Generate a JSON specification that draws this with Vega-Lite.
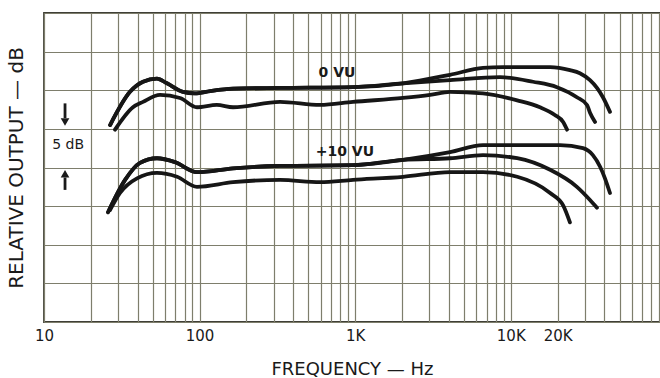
{
  "$schema": "https://vega.github.io/schema/vega-lite/v6.json",
  "width": 616,
  "height": 309,
  "autosize": {"type": "none"},
  "padding": {"left": 44, "top": 13, "right": 0, "bottom": 56},
  "background": "#ffffff",
  "config": {
    "view": {"stroke": "#3f3f36", "strokeWidth": 1.8},
    "font": "DejaVu Sans"
  },
  "datasets": {
    "curves": [
      {"f": 26.6, "db": 25.5, "curve": "0VU-a"},
      {"f": 35.7, "db": 29.8, "curve": "0VU-a"},
      {"f": 43.3, "db": 31.1, "curve": "0VU-a"},
      {"f": 53.2, "db": 31.5, "curve": "0VU-a"},
      {"f": 61.7, "db": 30.9, "curve": "0VU-a"},
      {"f": 78.2, "db": 29.8, "curve": "0VU-a"},
      {"f": 93.4, "db": 29.6, "curve": "0VU-a"},
      {"f": 117, "db": 29.9, "curve": "0VU-a"},
      {"f": 164, "db": 30.2, "curve": "0VU-a"},
      {"f": 329, "db": 30.3, "curve": "0VU-a"},
      {"f": 968, "db": 30.4, "curve": "0VU-a"},
      {"f": 2030, "db": 30.9, "curve": "0VU-a"},
      {"f": 4070, "db": 32.0, "curve": "0VU-a"},
      {"f": 6630, "db": 32.9, "curve": "0VU-a"},
      {"f": 8910, "db": 33.0, "curve": "0VU-a"},
      {"f": 17900, "db": 33.0, "curve": "0VU-a"},
      {"f": 24000, "db": 32.6, "curve": "0VU-a"},
      {"f": 27800, "db": 32.2, "curve": "0VU-a"},
      {"f": 32300, "db": 31.3, "curve": "0VU-a"},
      {"f": 35800, "db": 30.3, "curve": "0VU-a"},
      {"f": 39100, "db": 29.1, "curve": "0VU-a"},
      {"f": 43400, "db": 27.2, "curve": "0VU-a"},

      {"f": 26.6, "db": 25.5, "curve": "0VU-b"},
      {"f": 35.7, "db": 29.8, "curve": "0VU-b"},
      {"f": 43.3, "db": 31.1, "curve": "0VU-b"},
      {"f": 53.2, "db": 31.5, "curve": "0VU-b"},
      {"f": 61.7, "db": 30.9, "curve": "0VU-b"},
      {"f": 78.2, "db": 29.8, "curve": "0VU-b"},
      {"f": 93.4, "db": 29.6, "curve": "0VU-b"},
      {"f": 117, "db": 29.9, "curve": "0VU-b"},
      {"f": 164, "db": 30.2, "curve": "0VU-b"},
      {"f": 329, "db": 30.3, "curve": "0VU-b"},
      {"f": 968, "db": 30.4, "curve": "0VU-b"},
      {"f": 2030, "db": 30.9, "curve": "0VU-b"},
      {"f": 4070, "db": 31.3, "curve": "0VU-b"},
      {"f": 8520, "db": 31.7, "curve": "0VU-b"},
      {"f": 13900, "db": 31.1, "curve": "0VU-b"},
      {"f": 19800, "db": 30.4, "curve": "0VU-b"},
      {"f": 26600, "db": 29.1, "curve": "0VU-b"},
      {"f": 30900, "db": 28.1, "curve": "0VU-b"},
      {"f": 32300, "db": 27.1, "curve": "0VU-b"},
      {"f": 34800, "db": 25.9, "curve": "0VU-b"},

      {"f": 28.6, "db": 24.9, "curve": "0VU-c"},
      {"f": 37.3, "db": 27.8, "curve": "0VU-c"},
      {"f": 43.3, "db": 28.5, "curve": "0VU-c"},
      {"f": 55.7, "db": 29.4, "curve": "0VU-c"},
      {"f": 74.8, "db": 29.0, "curve": "0VU-c"},
      {"f": 96.2, "db": 27.8, "curve": "0VU-c"},
      {"f": 129, "db": 28.1, "curve": "0VU-c"},
      {"f": 164, "db": 27.8, "curve": "0VU-c"},
      {"f": 329, "db": 28.5, "curve": "0VU-c"},
      {"f": 594, "db": 28.1, "curve": "0VU-c"},
      {"f": 968, "db": 28.5, "curve": "0VU-c"},
      {"f": 2030, "db": 29.0, "curve": "0VU-c"},
      {"f": 3030, "db": 29.4, "curve": "0VU-c"},
      {"f": 4070, "db": 29.8, "curve": "0VU-c"},
      {"f": 6630, "db": 29.6, "curve": "0VU-c"},
      {"f": 11000, "db": 28.7, "curve": "0VU-c"},
      {"f": 15400, "db": 27.8, "curve": "0VU-c"},
      {"f": 19200, "db": 26.8, "curve": "0VU-c"},
      {"f": 21700, "db": 25.9, "curve": "0VU-c"},
      {"f": 23000, "db": 24.9, "curve": "0VU-c"},

      {"f": 25.8, "db": 14.2, "curve": "10VU-a"},
      {"f": 33.2, "db": 18.4, "curve": "10VU-a"},
      {"f": 41.4, "db": 20.6, "curve": "10VU-a"},
      {"f": 53.2, "db": 21.2, "curve": "10VU-a"},
      {"f": 69.5, "db": 20.7, "curve": "10VU-a"},
      {"f": 96.2, "db": 19.4, "curve": "10VU-a"},
      {"f": 164, "db": 19.9, "curve": "10VU-a"},
      {"f": 329, "db": 20.2, "curve": "10VU-a"},
      {"f": 968, "db": 20.3, "curve": "10VU-a"},
      {"f": 2030, "db": 21.0, "curve": "10VU-a"},
      {"f": 4070, "db": 22.0, "curve": "10VU-a"},
      {"f": 6630, "db": 22.9, "curve": "10VU-a"},
      {"f": 20700, "db": 22.9, "curve": "10VU-a"},
      {"f": 29100, "db": 22.5, "curve": "10VU-a"},
      {"f": 33700, "db": 21.6, "curve": "10VU-a"},
      {"f": 37500, "db": 20.1, "curve": "10VU-a"},
      {"f": 40300, "db": 18.6, "curve": "10VU-a"},
      {"f": 43400, "db": 16.7, "curve": "10VU-a"},

      {"f": 25.8, "db": 14.2, "curve": "10VU-b"},
      {"f": 33.2, "db": 18.4, "curve": "10VU-b"},
      {"f": 41.4, "db": 20.6, "curve": "10VU-b"},
      {"f": 53.2, "db": 21.2, "curve": "10VU-b"},
      {"f": 69.5, "db": 20.7, "curve": "10VU-b"},
      {"f": 96.2, "db": 19.4, "curve": "10VU-b"},
      {"f": 164, "db": 19.9, "curve": "10VU-b"},
      {"f": 329, "db": 20.2, "curve": "10VU-b"},
      {"f": 968, "db": 20.3, "curve": "10VU-b"},
      {"f": 2030, "db": 21.0, "curve": "10VU-b"},
      {"f": 4070, "db": 21.2, "curve": "10VU-b"},
      {"f": 6630, "db": 21.6, "curve": "10VU-b"},
      {"f": 11000, "db": 21.2, "curve": "10VU-b"},
      {"f": 17900, "db": 19.7, "curve": "10VU-b"},
      {"f": 26600, "db": 17.5, "curve": "10VU-b"},
      {"f": 32300, "db": 15.8, "curve": "10VU-b"},
      {"f": 35800, "db": 14.8, "curve": "10VU-b"},

      {"f": 26.6, "db": 14.5, "curve": "10VU-c"},
      {"f": 30.8, "db": 16.7, "curve": "10VU-c"},
      {"f": 39.6, "db": 18.6, "curve": "10VU-c"},
      {"f": 53.2, "db": 19.3, "curve": "10VU-c"},
      {"f": 71.6, "db": 18.8, "curve": "10VU-c"},
      {"f": 96.2, "db": 17.5, "curve": "10VU-c"},
      {"f": 164, "db": 18.1, "curve": "10VU-c"},
      {"f": 329, "db": 18.4, "curve": "10VU-c"},
      {"f": 594, "db": 18.1, "curve": "10VU-c"},
      {"f": 968, "db": 18.4, "curve": "10VU-c"},
      {"f": 2030, "db": 18.8, "curve": "10VU-c"},
      {"f": 4070, "db": 19.4, "curve": "10VU-c"},
      {"f": 6630, "db": 19.4, "curve": "10VU-c"},
      {"f": 11000, "db": 18.8, "curve": "10VU-c"},
      {"f": 17900, "db": 16.7, "curve": "10VU-c"},
      {"f": 21700, "db": 15.1, "curve": "10VU-c"},
      {"f": 24000, "db": 12.9, "curve": "10VU-c"}
    ],
    "labels": [
      {"f": 764, "db": 32.2, "text": "0 VU", "kind": "level"},
      {"f": 859, "db": 22.0, "text": "+10 VU", "kind": "level"},
      {"f": 14.3, "db": 22.9, "text": "5 dB", "kind": "scale"}
    ],
    "arrows": [
      {"f": 13.65, "db": 28.3, "db2": 26.4, "dir": "down"},
      {"f": 13.65, "db": 17.1, "db2": 18.7, "dir": "up"}
    ],
    "tips": [
      {"f": 13.65, "db": 25.9, "dir": "down"},
      {"f": 13.65, "db": 19.2, "dir": "up"}
    ]
  },
  "encoding": {
    "x": {
      "field": "f", "type": "quantitative",
      "scale": {"type": "log", "domain": [10, 91000], "nice": false},
      "axis": {
        "values": [10,20,30,40,50,60,70,80,90,100,200,300,400,500,600,700,800,900,1000,2000,3000,4000,5000,6000,7000,8000,9000,10000,20000,30000,40000,50000,60000,70000,80000,90000],
        "labelExpr": "datum.value == 10 ? '10' : datum.value == 100 ? '100' : datum.value == 1000 ? '1K' : datum.value == 10000 ? '10K' : datum.value == 20000 ? '20K' : ''",
        "grid": true, "gridColor": "#7e7e6c", "gridWidth": 1.2, "gridOpacity": 1,
        "ticks": false, "domain": false,
        "labelOverlap": false, "labelFlush": false, "labelBound": false,
        "labelFont": "DejaVu Sans", "labelFontSize": 15, "labelColor": "#1a1a1a", "labelPadding": 6,
        "title": "FREQUENCY — Hz", "titleFont": "DejaVu Sans", "titleFontSize": 18, "titleFontWeight": "normal", "titleColor": "#1a1a1a", "titlePadding": 17
      }
    },
    "y": {
      "field": "db", "type": "quantitative",
      "scale": {"domain": [0, 40], "nice": false},
      "axis": {
        "values": [0,5,10,15,20,25,30,35,40],
        "grid": true, "gridColor": "#7e7e6c", "gridWidth": 1.2, "gridOpacity": 1,
        "ticks": false, "labels": false, "domain": false, "labelOverlap": false,
        "title": "RELATIVE OUTPUT — dB", "titleFont": "DejaVu Sans", "titleFontSize": 20, "titleFontWeight": "normal", "titleColor": "#1a1a1a", "titlePadding": 18
      }
    }
  },
  "layer": [
    {
      "data": {"name": "curves"},
      "mark": {"type": "line", "color": "#161616", "strokeWidth": 3.8, "strokeCap": "round", "strokeJoin": "round", "interpolate": "monotone"},
      "encoding": {
        "detail": {"field": "curve", "type": "nominal"}
      }
    },
    {
      "data": {"name": "labels"},
      "transform": [{"filter": "datum.kind == 'level'"}],
      "mark": {"type": "text", "align": "center", "baseline": "middle", "color": "#1a1a1a", "font": "DejaVu Sans", "fontSize": 14, "fontWeight": "bold"},
      "encoding": {
        "text": {"field": "text"}
      }
    },
    {
      "data": {"name": "labels"},
      "transform": [{"filter": "datum.kind == 'scale'"}],
      "mark": {"type": "text", "align": "center", "baseline": "middle", "color": "#1a1a1a", "font": "DejaVu Sans", "fontSize": 14, "fontWeight": "normal"},
      "encoding": {
        "text": {"field": "text"}
      }
    },
    {
      "data": {"name": "arrows"},
      "mark": {"type": "rule", "color": "#1a1a1a", "strokeWidth": 2.8},
      "encoding": {
        "y2": {"field": "db2"}
      }
    },
    {
      "data": {"name": "tips"},
      "mark": {"type": "point", "filled": true, "color": "#1a1a1a", "size": 75, "opacity": 1},
      "encoding": {
        "shape": {"field": "dir", "type": "nominal", "scale": {"domain": ["down", "up"], "range": ["triangle-down", "triangle-up"]}, "legend": null}
      }
    }
  ]
}
